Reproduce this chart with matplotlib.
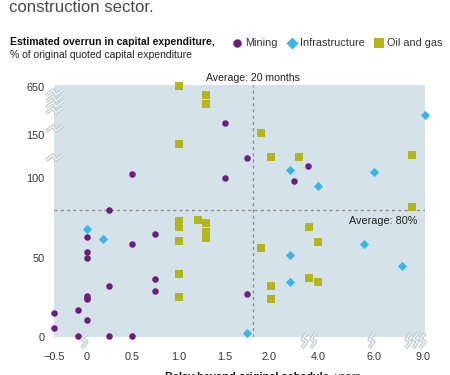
import numpy as np
import matplotlib
matplotlib.use("Agg")
import matplotlib.pyplot as plt
from matplotlib.path import Path

plt.rcParams["font.family"] = ["Liberation Sans", "DejaVu Sans"]

# Data (years of delay, % capex overrun)
mining_x = [1.5, 0.5, 1.5, 0.25, 1.75, 3.59, 3.0, 0, 0.5, 0.75, 0, 0, 0.75, 0.25,
            0.75, 0, 0, 0, -0.14, -0.5, 0, -0.5, -0.14, 0.25, 0.5, 1.75]
mining_y = [275, 105, 100, 80, 123, 114, 98, 63, 59, 65, 54, 50, 37, 32,
            29, 26, 25, 24, 17, 15, 11, 6, 0.5, 0.5, 0.5, 27]

infra_x = [9.1, 2.83, 4.0, 6.0, 0, 0.18, 2.83, 5.65, 7.73, 2.83, 1.75]
infra_y = [361, 109, 95, 107, 68, 62, 52, 58.5, 45, 35, 2.5]

oil_x = [1.0, 1.3, 1.3, 1.0, 1.91, 2.08, 3.21, 8.33, 8.33, 1.0, 1.0, 1.21, 1.3,
         1.3, 1.3, 1.0, 1.0, 1.0, 3.6, 4.0, 1.91, 3.6, 4.0, 2.08, 2.08]
oil_y = [660, 570, 473, 139, 168, 125, 124, 127, 82, 73, 69.5, 74, 72,
         66.4, 62.7, 60.6, 40, 25.4, 69.4, 60.2, 56, 37.5, 34.8, 32.3, 23.75]

avg_delay = 1.82   # "Average: 20 months" line position
avg_overrun = 80

x_ticks = [-0.5, 0, 0.5, 1.0, 1.5, 2.0, 4.0, 6.0, 9.0]
y_ticks = [0, 50, 100, 150, 650]

# broken axes: piecewise linear scales
x_knots = [-1.0, -0.5, 0, 0.5, 1.0, 1.5, 2.0, 4.0, 6.0, 9.0, 10.0]
x_px = [20, 53, 86, 131, 178, 224, 269, 318, 374, 423, 439]
y_knots = [-50, 0, 50, 100, 150, 650, 1000]
y_px = [-80, 0, 79, 159, 202, 250, 284]

def fx(v):
    return np.interp(v, x_knots, x_px)

def ix(v):
    return np.interp(v, x_px, x_knots)

def fy(v):
    return np.interp(v, y_knots, y_px)

def iy(v):
    return np.interp(v, y_px, y_knots)

purple = "#6b1f78"
cyan = "#3db4e2"
olive = "#b3b51d"
bg = "#d6e2e9"

fig = plt.figure(figsize=(4.5, 3.75), dpi=100)
ax = fig.add_axes([54 / 450, 1 - 337 / 375, 371 / 450, 252 / 375])
ax.set_xscale("function", functions=(fx, ix))
ax.set_yscale("function", functions=(fy, iy))
ax.set_xlim(-0.5, 9.12)
ax.set_ylim(0, 671)
ax.set_facecolor(bg)
for s in ax.spines.values():
    s.set_visible(False)

ax.axvline(avg_delay, color="#8a8a8a", lw=0.9, ls=(0, (2.5, 2.5)), zorder=1)
ax.axhline(avg_overrun, color="#8a8a8a", lw=0.9, ls=(0, (2.5, 2.5)), zorder=1)

ax.scatter(mining_x, mining_y, s=22, marker="o", color=purple, lw=0,
           zorder=3, clip_on=False, label="Mining")
ax.scatter(infra_x, infra_y, s=22, marker="D", color=cyan, lw=0,
           zorder=3, clip_on=False, label="Infrastructure")
ax.scatter(oil_x, oil_y, s=28, marker="s", color=olive, lw=0,
           zorder=3, clip_on=False, label="Oil and gas")

ax.set_xticks(x_ticks)
ax.set_xticklabels(["\u22120.5", "0", "0.5", "1.0", "1.5", "2.0", "4.0", "6.0", "9.0"])
ax.set_yticks(y_ticks)
ax.set_yticklabels([str(v) for v in y_ticks])
ax.minorticks_off()
ax.tick_params(axis="both", length=0, labelsize=7.8, colors="#333333")
ax.tick_params(axis="x", pad=11)
ax.tick_params(axis="y", pad=7)

# break marks
zig_x = Path([(-0.35, -1), (0.3, -0.15), (-0.3, 0.15), (0.35, 1)])
zig_y = Path([(-1, -0.35), (-0.15, 0.3), (0.15, -0.3), (1, 0.35)])
xbreaks = [-0.045, 3.4, 3.8, 5.9, 8.1, 8.5, 8.95]
ybreaks = [124, 223, 410, 473, 535, 598]
for xb in xbreaks:
    ax.plot([xb], [-2], marker=zig_x, ms=11, mfc="none", mec="#b8c6ce",
            mew=2.6, clip_on=False, zorder=4, ls="none")
    ax.plot([xb], [-2], marker=zig_x, ms=11, mfc="none", mec="#eef2f4",
            mew=1.2, clip_on=False, zorder=5, ls="none")
for yb in ybreaks:
    ax.plot([-0.5], [yb], marker=zig_y, ms=12, mfc="none", mec="#b8c6ce",
            mew=2.6, clip_on=False, zorder=4, ls="none")
    ax.plot([-0.5], [yb], marker=zig_y, ms=12, mfc="none", mec="#eef2f4",
            mew=1.2, clip_on=False, zorder=5, ls="none")

ax.text(avg_delay, 695, "Average: 20 months", ha="center", va="bottom",
        fontsize=7.6, color="#222222")
ax.text(8.65, 76, "Average: 80%", ha="right", va="top",
        fontsize=7.8, color="#222222")

# header texts
fig.text(9 / 450, 1 - 12 / 375, "construction sector.", fontsize=12.1,
         color="#4a4a4a", va="baseline", ha="left")
fig.text(10 / 450, 1 - 45 / 375, "Estimated overrun in capital expenditure,",
         fontsize=7.5, fontweight="bold", color="#111111", va="baseline")
fig.text(10 / 450, 1 - 58 / 375, "% of original quoted capital expenditure",
         fontsize=7.5, color="#222222", va="baseline")

leg = ax.legend(loc="upper left", bbox_to_anchor=(234 / 450, 1 - 38 / 375),
                bbox_transform=fig.transFigure, ncol=3, frameon=False,
                fontsize=7.8, handlelength=0.6, handletextpad=0.45,
                columnspacing=1.0, borderpad=0, borderaxespad=0,
                markerscale=1.3)
for t in leg.get_texts():
    t.set_color("#333333")

# x axis label: bold part then regular part
fig.canvas.draw()
r = fig.canvas.get_renderer()
t1 = fig.text(165 / 450, 1 - 380 / 375, "Delay beyond original schedule,",
              fontsize=7.8, fontweight="bold", color="#111111", va="baseline")
bb = t1.get_window_extent(renderer=r)
fig.text((bb.x1 + 3) / 450, 1 - 380 / 375, "years", fontsize=7.8,
         color="#222222", va="baseline")

fig.savefig("out.png", dpi=100)
